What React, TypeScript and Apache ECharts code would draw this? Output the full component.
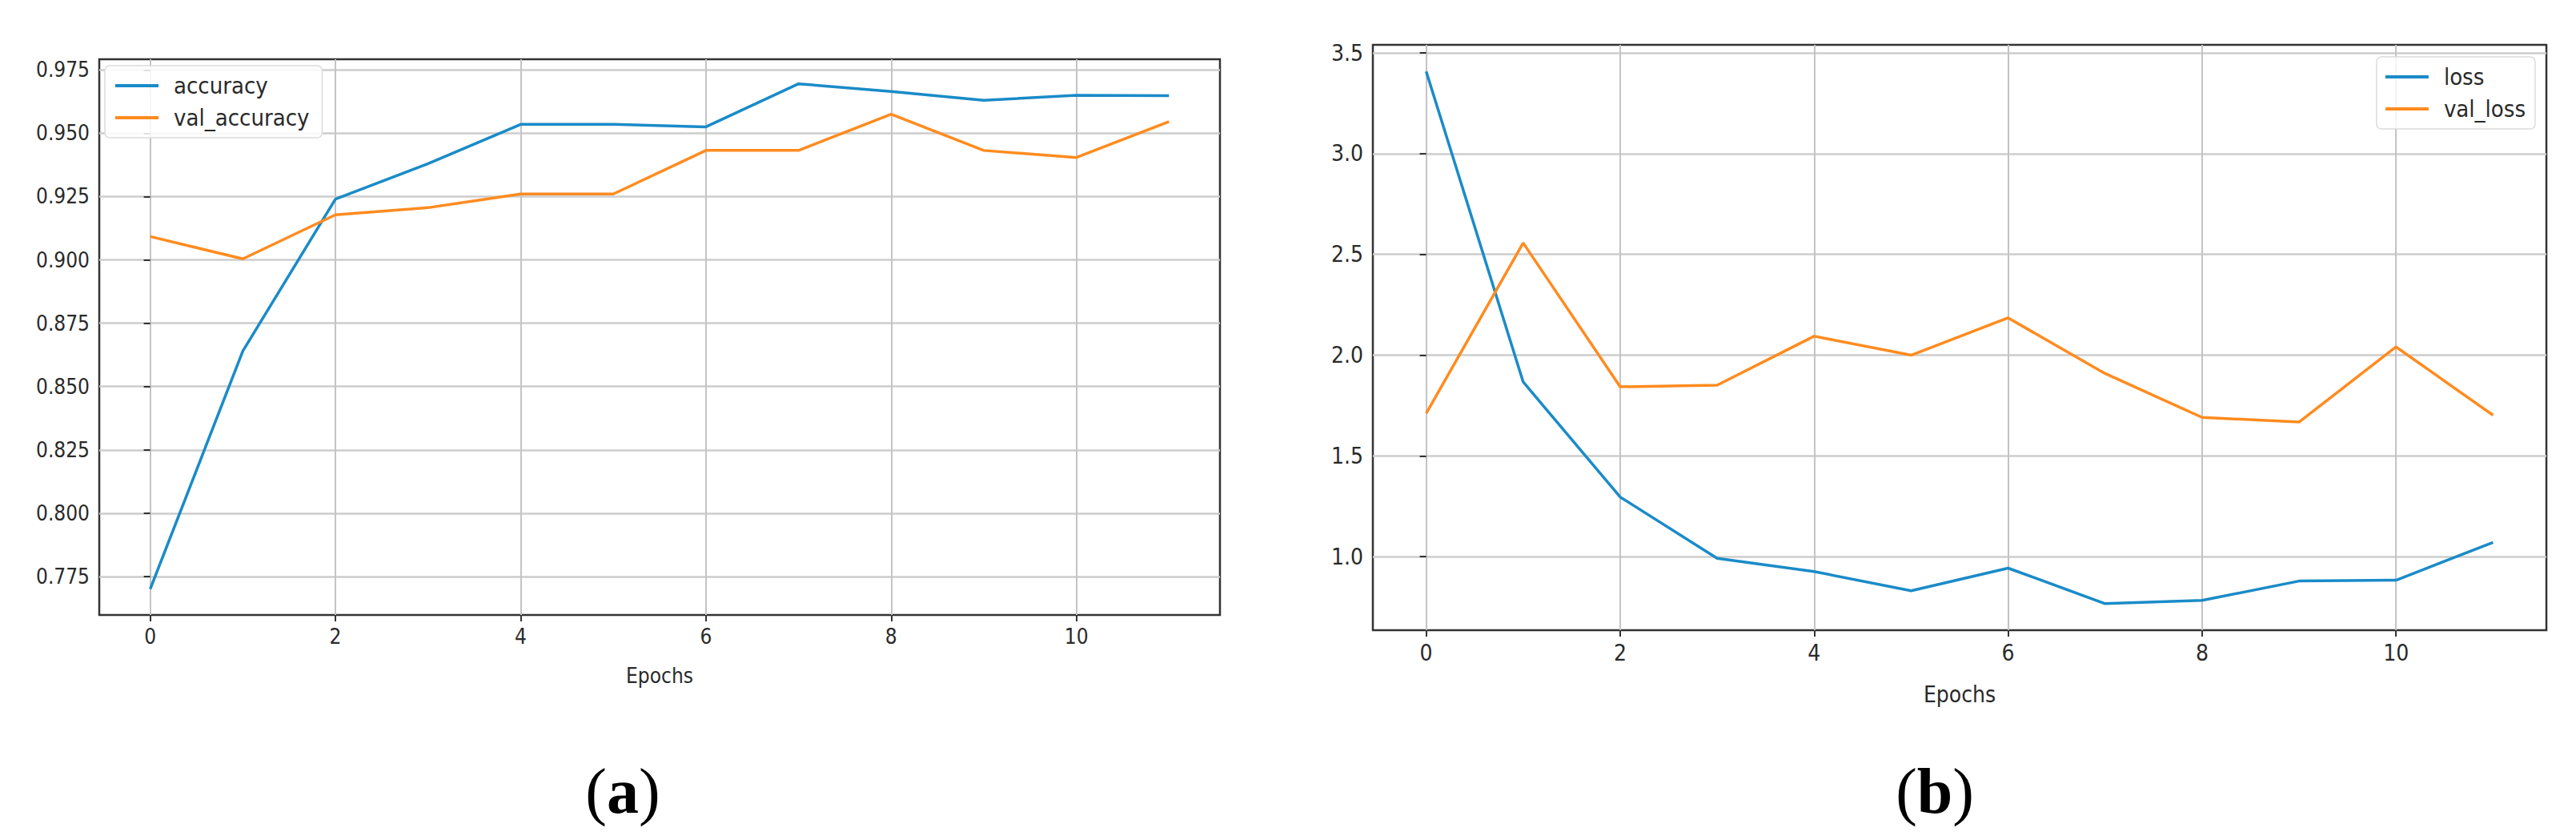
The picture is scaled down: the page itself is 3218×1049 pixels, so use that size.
import React, { useEffect, useRef } from 'react';
import * as echarts from 'echarts';

const epochs = [0, 1, 2, 3, 4, 5, 6, 7, 8, 9, 10, 11];
const accuracy = [0.770, 0.864, 0.924, 0.938, 0.9535, 0.9535, 0.9525, 0.9695, 0.9665, 0.963, 0.965, 0.9648];
const valAccuracy = [0.9092, 0.9004, 0.9178, 0.9206, 0.926, 0.926, 0.9432, 0.9432, 0.9575, 0.9432, 0.9404, 0.9546];
const loss = [3.408, 1.867, 1.296, 0.992, 0.926, 0.831, 0.943, 0.767, 0.783, 0.879, 0.883, 1.071];
const valLoss = [1.711, 2.557, 1.843, 1.851, 2.094, 2.0, 2.185, 1.909, 1.691, 1.668, 2.041, 1.702];
const xTicks = [0, 2, 4, 6, 8, 10];
const accTicks = [0.775, 0.8, 0.825, 0.85, 0.875, 0.9, 0.925, 0.95, 0.975];
const lossTicks = [1.0, 1.5, 2.0, 2.5, 3.0, 3.5];

const BLUE = '#1a8bc8';
const ORANGE = '#ff8b1f';
const FONT = '"DejaVu Sans Condensed", "DejaVu Sans", sans-serif';
const TXT = '#2a2a2a';

function xAxisCfg(gridIndex: number, size: number) {
  return {
    type: 'value',
    gridIndex,
    min: -0.55,
    max: 11.55,
    name: 'Epochs',
    nameLocation: 'middle',
    nameGap: gridIndex === 0 ? 63 : 66,
    nameTextStyle: { fontFamily: FONT, fontSize: size, color: TXT },
    axisLine: { show: false },
    axisTick: { show: true, customValues: xTicks, length: 8, lineStyle: { color: '#333', width: 2 } },
    axisLabel: {
      customValues: xTicks,
      formatter: (v: number) => String(v),
      fontFamily: FONT,
      fontSize: size,
      color: TXT,
      margin: 14,
    },
    splitLine: { show: true, lineStyle: { color: '#c4c4c4', width: 2 } },
  };
}

function yAxisCfg(gridIndex: number, min: number, max: number, ticks: number[], digits: number, size: number) {
  return {
    type: 'value',
    gridIndex,
    min,
    max,
    axisLine: { show: false },
    axisTick: { show: true, customValues: ticks, length: 8, lineStyle: { color: '#333', width: 2 } },
    axisLabel: {
      customValues: ticks,
      formatter: (v: number) => v.toFixed(digits),
      fontFamily: FONT,
      fontSize: size,
      color: TXT,
      margin: 12,
    },
    splitLine: { show: true, lineStyle: { color: '#cdcdcd', width: 2.5 } },
  };
}

function lineSeries(name: string, data: number[], color: string, idx: number) {
  return {
    name,
    type: 'line',
    xAxisIndex: idx,
    yAxisIndex: idx,
    data: epochs.map((e, i) => [e, data[i]]),
    showSymbol: false,
    symbol: 'none',
    lineStyle: { color, width: 3.5 },
    itemStyle: { color },
    z: 5,
  };
}

export default function App() {
  const ref = useRef<HTMLDivElement>(null);
  useEffect(() => {
    if (!ref.current) return;
    const chart = echarts.init(ref.current, null, { renderer: 'svg' });
    const legendText = { fontFamily: FONT, fontSize: 29, color: TXT, lineHeight: 30, padding: [0, 0, 0, 14] };
    const legendBase = {
      orient: 'vertical',
      icon: 'rect',
      itemWidth: 54,
      itemHeight: 4,
      itemGap: 10,
      borderColor: '#dcdcdc',
      borderWidth: 1.5,
      borderRadius: 6,
      backgroundColor: 'rgba(255,255,255,0.85)',
      textStyle: legendText,
    };
    chart.setOption({
      animation: false,
      backgroundColor: '#ffffff',
      grid: [
        { left: 124, top: 74, width: 1400, height: 694, show: true, borderColor: '#333', borderWidth: 2.5, backgroundColor: 'transparent' },
        { left: 1715, top: 56, width: 1466, height: 731, show: true, borderColor: '#333', borderWidth: 2.5, backgroundColor: 'transparent' },
      ],
      xAxis: [xAxisCfg(0, 26), xAxisCfg(1, 28)],
      yAxis: [
        yAxisCfg(0, 0.7598, 0.9792, accTicks, 3, 26),
        yAxisCfg(1, 0.635, 3.54, lossTicks, 1, 28),
      ],
      legend: [
        {
          ...legendBase,
          data: ['accuracy', 'val_accuracy'],
          left: 131,
          top: 82,
          padding: [10, 16, 10, 13],
        },
        {
          ...legendBase,
          data: ['loss', 'val_loss'],
          right: 51,
          top: 71,
          padding: [10, 12, 10, 11],
        },
      ],
      series: [
        lineSeries('accuracy', accuracy, BLUE, 0),
        lineSeries('val_accuracy', valAccuracy, ORANGE, 0),
        lineSeries('loss', loss, BLUE, 1),
        lineSeries('val_loss', valLoss, ORANGE, 1),
      ],
      graphic: [
        {
          type: 'text',
          x: 778,
          y: 988,
          style: {
            text: '{p|(}{b|a}{p|)}',
            align: 'center',
            verticalAlign: 'middle',
            rich: {
              p: { fontFamily: '"Liberation Serif", serif', fontSize: 80, fill: '#000' },
              b: { fontFamily: '"Liberation Serif", serif', fontSize: 80, fontWeight: 'bold', fill: '#000' },
            },
          },
        },
        {
          type: 'text',
          x: 2417,
          y: 988,
          style: {
            text: '{p|(}{b|b}{p|)}',
            align: 'center',
            verticalAlign: 'middle',
            rich: {
              p: { fontFamily: '"Liberation Serif", serif', fontSize: 80, fill: '#000' },
              b: { fontFamily: '"Liberation Serif", serif', fontSize: 80, fontWeight: 'bold', fill: '#000' },
            },
          },
        },
      ],
    });
    return () => chart.dispose();
  }, []);
  return (
    <div
      ref={ref}
      style={{ position: 'absolute', left: 0, top: 0, width: 3218, height: 1049 }}
    />
  );
}
